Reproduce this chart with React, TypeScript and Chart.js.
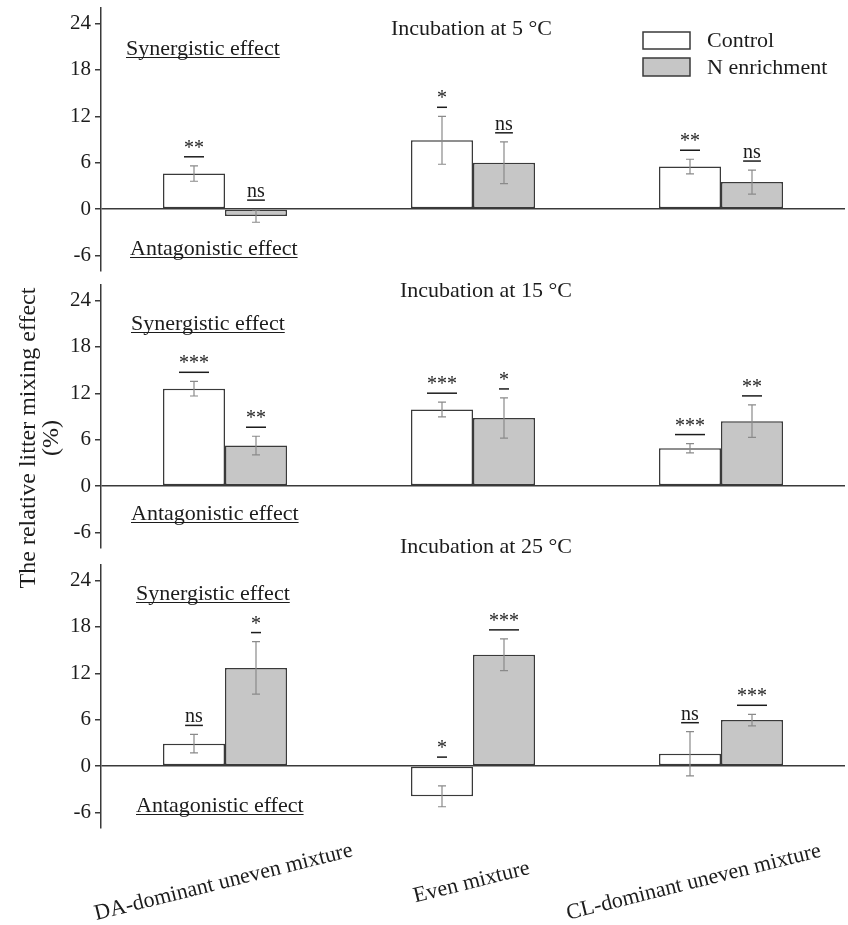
import React, { useEffect, useRef } from 'react';
import { Chart, registerables } from 'chart.js';

Chart.register(...registerables);

// ---------------- data ----------------
const categories = ['DA-dominant uneven mixture', 'Even mixture', 'CL-dominant uneven mixture'];
const seriesNames = ['Control', 'N enrichment'];
const panelTitles = ['Incubation at 5 °C', 'Incubation at 15 °C', 'Incubation at 25 °C'];
const yTicks = [-6, 0, 6, 12, 18, 24];
const yMin = -8;
const yMax = 26;
const yAxisTitle = ['The relative litter mixing effect', '(%)'];
const synergisticLabel = 'Synergistic effect';
const antagonisticLabel = 'Antagonistic effect';

const control5 = [4.6, 8.9, 5.5];
const controlErr5 = [1.0, 3.1, 0.95];
const nEnrich5 = [-0.9, 6.0, 3.5];
const nEnrichErr5 = [0.8, 2.7, 1.55];
const sigControl5 = ['**', '*', '**'];
const sigNEnrich5 = ['ns', 'ns', 'ns'];

const control15 = [12.6, 9.9, 4.9];
const controlErr15 = [0.95, 0.95, 0.6];
const nEnrich15 = [5.25, 8.8, 8.4];
const nEnrichErr15 = [1.2, 2.6, 2.1];
const sigControl15 = ['***', '***', '***'];
const sigNEnrich15 = ['**', '*', '**'];

const control25 = [2.9, -3.9, 1.6];
const controlErr25 = [1.2, 1.35, 2.85];
const nEnrich25 = [12.7, 14.4, 5.95];
const nEnrichErr25 = [3.4, 2.05, 0.75];
const sigControl25 = ['ns', '*', 'ns'];
const sigNEnrich25 = ['*', '***', '***'];

// ---------------- styles / layout ----------------
const W = 848;
const H = 925;
const FONT = "'Liberation Serif', 'Times New Roman', Times, serif";
const TEXT = '#1c1c1c';
const AXIS = '#3a3a3a';
const ERR = '#8a8a8a';
const CONTROL_FILL = '#ffffff';
const N_FILL = '#c6c6c6';

const layouts = [
  { areaTop: 8, areaBottom: 271, titleX: 391, titleBase: 35, synX: 126, synBase: 55, antX: 130, antBase: 255 },
  { areaTop: 285, areaBottom: 548, titleX: 400, titleBase: 297, synX: 131, synBase: 330, antX: 131, antBase: 520 },
  { areaTop: 565, areaBottom: 828, titleX: 400, titleBase: 553, synX: 136, synBase: 600, antX: 136, antBase: 812 },
];

const panels = [
  { title: panelTitles[0], values: [control5, nEnrich5], errors: [controlErr5, nEnrichErr5], sig: [sigControl5, sigNEnrich5] },
  { title: panelTitles[1], values: [control15, nEnrich15], errors: [controlErr15, nEnrichErr15], sig: [sigControl15, sigNEnrich15] },
  { title: panelTitles[2], values: [control25, nEnrich25], errors: [controlErr25, nEnrichErr25], sig: [sigControl25, sigNEnrich25] },
];

const fills = [CONTROL_FILL, N_FILL];

function underlined(
  ctx: CanvasRenderingContext2D,
  text: string,
  x: number,
  baseline: number,
  align: CanvasTextAlign,
  size: number,
  gap: number,
  lw: number
) {
  ctx.font = `${size}px ${FONT}`;
  ctx.textAlign = align;
  ctx.textBaseline = 'alphabetic';
  ctx.fillStyle = TEXT;
  ctx.fillText(text, x, baseline);
  const w = ctx.measureText(text).width;
  const x0 = align === 'center' ? x - w / 2 : x;
  ctx.beginPath();
  ctx.strokeStyle = TEXT;
  ctx.lineWidth = lw;
  ctx.moveTo(x0, baseline + gap);
  ctx.lineTo(x0 + w, baseline + gap);
  ctx.stroke();
}

function makeConfig(pi: number): any {
  const L = layouts[pi];
  const P = panels[pi];
  const overlay = {
    id: 'overlay' + pi,
    afterDraw(chart: any) {
      const ctx: CanvasRenderingContext2D = chart.ctx;
      const ys = chart.scales.y;
      const xs = chart.scales.x;
      ctx.save();
      // error bars
      for (let d = 0; d < 2; d++) {
        const meta = chart.getDatasetMeta(d);
        meta.data.forEach((el: any, i: number) => {
          const v = P.values[d][i];
          const e = P.errors[d][i];
          const yt = ys.getPixelForValue(v + e);
          const yb = ys.getPixelForValue(v - e);
          ctx.beginPath();
          ctx.strokeStyle = ERR;
          ctx.lineWidth = 1.2;
          ctx.moveTo(el.x, yt);
          ctx.lineTo(el.x, yb);
          ctx.moveTo(el.x - 4, yt);
          ctx.lineTo(el.x + 4, yt);
          ctx.moveTo(el.x - 4, yb);
          ctx.lineTo(el.x + 4, yb);
          ctx.stroke();
        });
      }
      // significance marks
      for (let d = 0; d < 2; d++) {
        const meta = chart.getDatasetMeta(d);
        meta.data.forEach((el: any, i: number) => {
          const v = P.values[d][i];
          const e = P.errors[d][i];
          const lineY = ys.getPixelForValue(Math.max(v + e, 0)) - 9;
          underlined(ctx, P.sig[d][i], el.x, lineY - 3, 'center', 20, 3, 1.5);
        });
      }
      // effect labels
      underlined(ctx, synergisticLabel, L.synX, L.synBase, 'left', 22, 2.5, 1.2);
      underlined(ctx, antagonisticLabel, L.antX, L.antBase, 'left', 22, 2.5, 1.2);
      // panel title
      ctx.font = `22px ${FONT}`;
      ctx.fillStyle = TEXT;
      ctx.textAlign = 'left';
      ctx.textBaseline = 'alphabetic';
      ctx.fillText(P.title, L.titleX, L.titleBase);

      if (pi === 0) {
        // legend
        const boxes = [
          { y: 32, h: 17, base: 47 },
          { y: 58, h: 18, base: 74 },
        ];
        boxes.forEach((b, k) => {
          ctx.fillStyle = fills[k];
          ctx.fillRect(643, b.y, 47, b.h);
          ctx.strokeStyle = AXIS;
          ctx.lineWidth = 1.5;
          ctx.strokeRect(643, b.y, 47, b.h);
          ctx.fillStyle = TEXT;
          ctx.font = `22px ${FONT}`;
          ctx.textAlign = 'left';
          ctx.textBaseline = 'alphabetic';
          ctx.fillText(seriesNames[k], 707, b.base);
        });
      }
      if (pi === 1) {
        // shared y-axis title
        ctx.save();
        ctx.translate(29, 438);
        ctx.rotate(-Math.PI / 2);
        ctx.font = `24px ${FONT}`;
        ctx.fillStyle = TEXT;
        ctx.textAlign = 'center';
        ctx.textBaseline = 'middle';
        ctx.fillText(yAxisTitle[0], 0, 0);
        ctx.fillText(yAxisTitle[1], 0, 23);
        ctx.restore();
      }
      if (pi === 2) {
        // rotated category labels
        const a = (14 * Math.PI) / 180;
        ctx.font = `22px ${FONT}`;
        categories.forEach((lab, i) => {
          const w = ctx.measureText(lab).width;
          let cx = xs.getPixelForValue(i);
          const right = cx + (w / 2) * Math.cos(a);
          if (right > 822) cx -= right - 822;
          ctx.save();
          ctx.translate(cx, 888);
          ctx.rotate(-a);
          ctx.fillStyle = TEXT;
          ctx.textAlign = 'center';
          ctx.textBaseline = 'alphabetic';
          ctx.fillText(lab, 0, 0);
          ctx.restore();
        });
      }
      ctx.restore();
    },
  };

  return {
    type: 'bar',
    data: {
      labels: categories,
      datasets: [0, 1].map((d) => ({
        label: seriesNames[d],
        data: P.values[d],
        backgroundColor: fills[d],
        borderColor: AXIS,
        borderWidth: 1.5,
        borderSkipped: false,
        categoryPercentage: 0.5,
        barPercentage: 1.0,
      })),
    },
    options: {
      responsive: false,
      animation: false,
      devicePixelRatio: 1,
      events: [],
      layout: { padding: { left: 0, right: 3, top: L.areaTop, bottom: H - L.areaBottom } },
      plugins: { legend: { display: false }, tooltip: { enabled: false }, title: { display: false } },
      scales: {
        x: { type: 'category', display: false, offset: true },
        y: {
          type: 'linear',
          min: yMin,
          max: yMax,
          afterBuildTicks: (s: any) => {
            s.ticks = yTicks.map((v) => ({ value: v }));
          },
          afterFit: (s: any) => {
            s.width = 101;
            s.paddingTop = 0;
            s.paddingBottom = 0;
          },
          ticks: {
            font: { family: FONT, size: 21 },
            color: TEXT,
            padding: 4,
            callback: (v: any) => String(v),
          },
          grid: {
            color: (c: any) => (c.tick && c.tick.value === 0 ? AXIS : 'rgba(0,0,0,0)'),
            lineWidth: 1.5,
            tickColor: AXIS,
            tickLength: 6,
            tickWidth: 1.5,
          },
          border: { display: true, color: AXIS, width: 1.5 },
        },
      },
    },
    plugins: [overlay],
  };
}

function Panel({ index }: { index: number }) {
  const ref = useRef<HTMLCanvasElement>(null);
  useEffect(() => {
    const chart = new Chart(ref.current as HTMLCanvasElement, makeConfig(index));
    return () => chart.destroy();
  }, [index]);
  return (
    <canvas
      ref={ref}
      width={W}
      height={H}
      style={{ position: 'absolute', left: 0, top: 0, width: W, height: H }}
    />
  );
}

export default function App() {
  return (
    <div style={{ position: 'absolute', left: 0, top: 0, width: W, height: H, background: '#fff' }}>
      <Panel index={0} />
      <Panel index={1} />
      <Panel index={2} />
    </div>
  );
}
